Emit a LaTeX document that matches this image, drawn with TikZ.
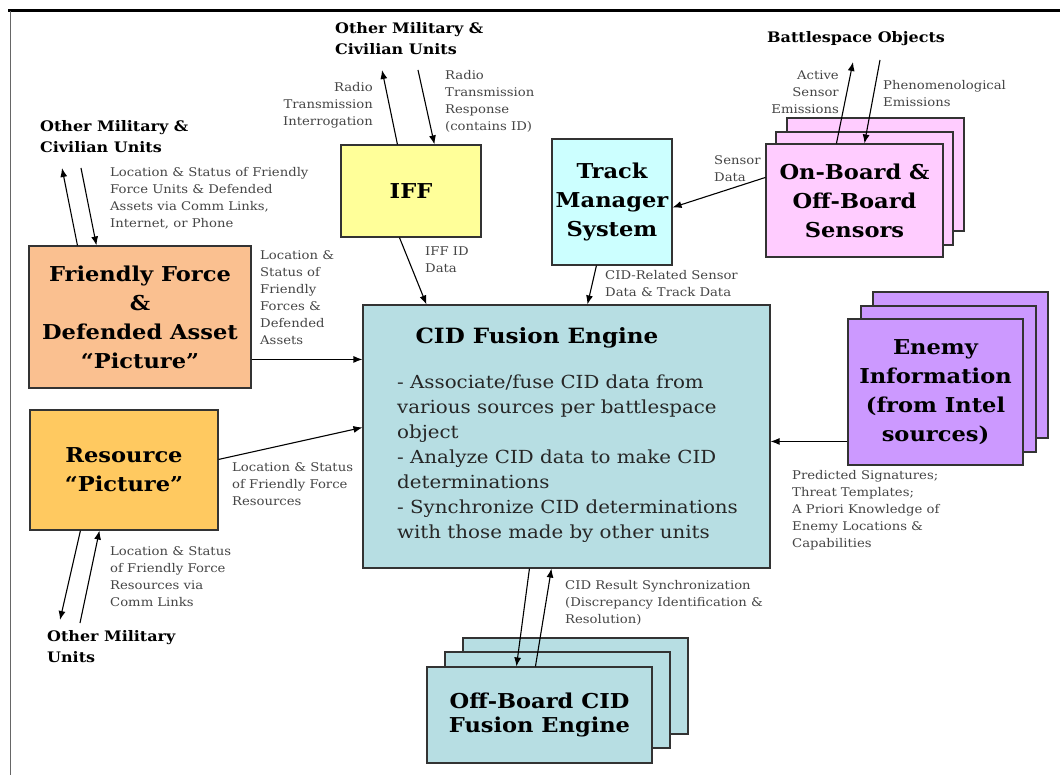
\documentclass[tikz,border=0pt]{standalone}
\usepackage{fontspec}
\setmainfont{DejaVu Serif}[FakeStretch=1.1]
\usetikzlibrary{arrows.meta,calc}

\definecolor{ffpeach}{HTML}{FAC090}
\definecolor{respic}{HTML}{FFC960}
\definecolor{iffyel}{HTML}{FFFF99}
\definecolor{trkcyan}{HTML}{CCFFFF}
\definecolor{senspink}{HTML}{FFCCFF}
\definecolor{cidteal}{HTML}{B7DEE3}
\definecolor{enviolet}{HTML}{CC99FF}
\definecolor{lblgray}{HTML}{454545}

\tikzset{
  blk/.style={draw=black!80, line width=1.1pt, inner sep=0pt, align=center,
    font=\fontsize{20.5}{29}\selectfont\bfseries},
  sheet/.style={draw=black!80, line width=1.1pt},
  lbl/.style={inner sep=0pt, align=left, text=lblgray,
    font=\fontsize{12}{17}\selectfont},
  unitlbl/.style={inner sep=0pt, align=left,
    font=\fontsize{14.5}{21}\selectfont\bfseries},
  flow/.style={draw=black, line width=1.1pt, -{Latex[length=9pt,width=7pt]}},
}

\begin{document}
\begin{tikzpicture}[x=1pt,y=-1pt]
\useasboundingbox (0,0) rectangle (1060,775);

% frame
\draw[line width=3pt] (8,11) -- (1060,11);
\draw[black!60, line width=1pt] (10,11) -- (10,775);

% stacked sheets behind the sensor, enemy and off-board boxes
\foreach \dx/\dy in {21/-26,10/-12}{
  \draw[sheet, fill=senspink] (766+\dx,144+\dy) rectangle (943+\dx,257+\dy);
}
\foreach \dx/\dy in {25/-27,13/-13}{
  \draw[sheet, fill=enviolet] (848+\dx,319+\dy) rectangle (1023+\dx,465+\dy);
}
\foreach \dx/\dy in {36/-28,18/-14}{
  \draw[sheet, fill=cidteal] (427+\dx,666+\dy) rectangle (652+\dx,762+\dy);
}

% main blocks
\node[blk, fill=ffpeach, minimum width=222pt, minimum height=142pt] (ff) at (140,317)
  {Friendly Force\\\&\\Defended Asset\\“Picture”};
\node[blk, fill=respic, minimum width=188pt, minimum height=120pt] (rs) at (124,470)
  {Resource\\“Picture”};
\node[blk, fill=iffyel, minimum width=140pt, minimum height=92pt] (iff) at (411,191)
  {IFF};
\node[blk, fill=trkcyan, minimum width=120pt, minimum height=126pt] (tm) at (612,202)
  {Track\\Manager\\System};
\node[blk, fill=senspink, minimum width=177pt, minimum height=113pt] (sn) at (854.5,200.5)
  {On-Board \&\\Off-Board\\Sensors};
\node[blk, fill=cidteal, minimum width=407pt, minimum height=263pt] (cid) at (566.5,436.5) {};
\node[blk, fill=enviolet, minimum width=175pt, minimum height=146pt] (en) at (935.5,392)
  {Enemy\\Information\\(from Intel\\sources)};
\node[blk, fill=cidteal, minimum width=225pt, minimum height=96pt,
  font=\fontsize{20.5}{24}\selectfont\bfseries] (ob) at (539.5,715)
  {Off-Board CID\\Fusion Engine};

% fusion engine contents
\node[inner sep=0pt, font=\fontsize{21}{24}\selectfont\bfseries] (cidttl) at (537,338)
  {CID Fusion Engine};
\node[inner sep=0pt, anchor=north west, align=left, text=black!85,
  font=\fontsize{18}{25}\selectfont] (cidtxt) at (397,375)
  {- Associate/fuse CID data from\\various sources per battlespace\\object\\- Analyze CID data to make CID\\determinations\\- Synchronize CID determinations\\with those made by other units};

% outside parties
\node[unitlbl, anchor=north west] (omcL) at (40,120) {Other Military \&\\Civilian Units};
\node[unitlbl, anchor=north west] (omcT) at (335,22) {Other Military \&\\Civilian Units};
\node[unitlbl, anchor=north west] (omu) at (47,630) {Other Military\\Units};
\node[unitlbl, anchor=north west] (bso) at (767,31) {Battlespace Objects};

% free ends of the exchange arrows
\coordinate (pA1) at (62,168);
\coordinate (pA2) at (81,168);
\coordinate (pR1) at (60,620);
\coordinate (pR2) at (80,623);
\coordinate (pI1) at (382,70);
\coordinate (pI2) at (418,70);
\coordinate (pB1) at (853,62);
\coordinate (pB2) at (880,60);

% connectors
\draw[flow] ($(ff.north west)+(49,0)$) -- (pA1);
\draw[flow] (pA2) -- ($(ff.north west)+(68,0)$);
\draw[flow] ($(ff.north east)+(0,114)$) -- ($(cid.north west)+(0,55)$);
\draw[flow] ($(rs.north east)+(0,50)$) -- ($(cid.north west)+(0,123)$);
\draw[flow] ($(rs.south west)+(51,0)$) -- (pR1);
\draw[flow] (pR2) -- ($(rs.south west)+(70,0)$);
\draw[flow] ($(iff.north west)+(57,0)$) -- (pI1);
\draw[flow] (pI2) -- ($(iff.north west)+(94,0)$);
\draw[flow] ($(iff.south west)+(59,0)$) -- ($(cid.north west)+(64,0)$);
\draw[flow] ($(tm.south west)+(45,0)$) -- ($(cid.north west)+(225,0)$);
\draw[flow] ($(sn.north west)+(0,34)$) -- ($(tm.north east)+(0,69)$);
\draw[flow] ($(sn.north west)+(71,0)$) -- (pB1);
\draw[flow] (pB2) -- ($(sn.north west)+(99,0)$);
\draw[flow] ($(en.north west)+(0,123)$) -- ($(cid.north east)+(0,137)$);
\draw[flow] ($(cid.south west)+(167,0)$) -- ($(ob.north west)+(90,0)$);
\draw[flow] ($(ob.north west)+(109,0)$) -- ($(cid.south west)+(189,0)$);

% connector labels
\node[lbl, anchor=north west] (l1) at (110,167)
  {Location \& Status of Friendly\\Force Units \& Defended\\Assets via Comm Links,\\Internet, or Phone};
\node[lbl, anchor=north west] (l2) at (260,250)
  {Location \&\\Status of\\Friendly\\Forces \&\\Defended\\Assets};
\node[lbl, anchor=north west] (l3) at (232,462)
  {Location \& Status\\of Friendly Force\\Resources};
\node[lbl, anchor=north west] (l4) at (110,546)
  {Location \& Status\\of Friendly Force\\Resources via\\Comm Links};
\node[lbl, anchor=north east, align=right] (l5) at (373,82)
  {Radio\\Transmission\\Interrogation};
\node[lbl, anchor=north west] (l6) at (445,70)
  {Radio\\Transmission\\Response\\(contains ID)};
\node[lbl, anchor=north west] (l7) at (425,247) {IFF ID\\Data};
\node[lbl, anchor=north west] (l8) at (605,270) {CID-Related Sensor\\Data \& Track Data};
\node[lbl, anchor=north west] (l9) at (714,155) {Sensor\\Data};
\node[lbl, anchor=north east, align=right] (l10) at (839,70)
  {Active\\Sensor\\Emissions};
\node[lbl, anchor=north west] (l11) at (883,80) {Phenomenological\\Emissions};
\node[lbl, anchor=north west] (l12) at (792,470)
  {Predicted Signatures;\\Threat Templates;\\A Priori Knowledge of\\Enemy Locations \&\\Capabilities};
\node[lbl, anchor=north west] (l13) at (565,580)
  {CID Result Synchronization\\(Discrepancy Identification \&\\Resolution)};
\end{tikzpicture}
\end{document}
